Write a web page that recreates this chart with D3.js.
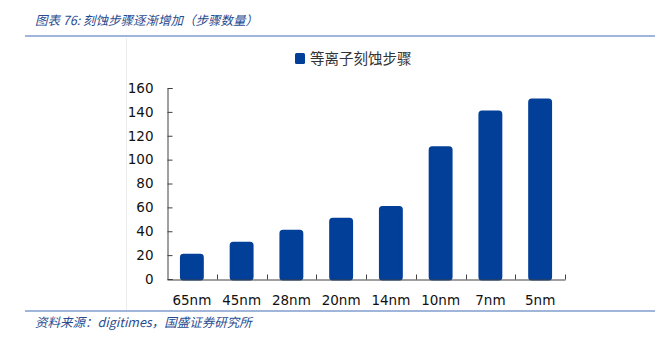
<!DOCTYPE html>
<html>
<head>
<meta charset="utf-8">
<script src="https://cdn.jsdelivr.net/npm/d3@7"></script>
<style>
  html, body { margin: 0; padding: 0; background: #fff; }
  svg { display: block; }
</style>
</head>
<body>
<svg id="chart" width="659" height="337"></svg>
<script>
// Process nodes and the number of plasma etch steps at each node
const nodes = ["65nm", "45nm", "28nm", "20nm", "14nm", "10nm", "7nm", "5nm"];
const etchSteps = [20, 30, 40, 50, 60, 110, 140, 150];
const yTicks = [0, 20, 40, 60, 80, 100, 120, 140, 160];
const seriesName = "等离子刻蚀步骤";
const titleText = "图表 76: 刻蚀步骤逐渐增加（步骤数量）";
const sourceText = "资料来源：digitimes，国盛证券研究所";

const barColor = "#023f98";
const accent = "#2a4b8f";
const ruleColor = "#7f9dcc";
const axisColor = "#404040";
const numFont = "'DejaVu Sans', Verdana, sans-serif";
const cjkFont = "'Noto Sans CJK SC', sans-serif";

const svg = d3.select("#chart");

// Header and footer rules
svg.append("line").attr("x1", 25).attr("x2", 655).attr("y1", 36).attr("y2", 36)
  .attr("stroke", ruleColor).attr("stroke-width", 1.5);
svg.append("line").attr("x1", 25).attr("x2", 655).attr("y1", 311).attr("y2", 311)
  .attr("stroke", ruleColor).attr("stroke-width", 1.5);
// faint frame edge of the chart area
svg.append("line").attr("x1", 126.5).attr("x2", 126.5).attr("y1", 38).attr("y2", 310)
  .attr("stroke", "#ececec").attr("stroke-width", 1);

svg.append("text").attr("x", 35).attr("y", 25)
  .attr("font-family", cjkFont).attr("font-size", 12.5).attr("font-style", "italic")
  .attr("fill", accent).text(titleText);

svg.append("text").attr("x", 35).attr("y", 327)
  .attr("font-family", cjkFont).attr("font-size", 12.5).attr("font-style", "italic")
  .attr("fill", accent).text(sourceText);

// Scales
const x = d3.scaleBand().domain(nodes).range([167, 565]).paddingInner(0.58).paddingOuter(0.29);
const y = d3.scaleLinear().domain([0, 160]).range([279, 88]);

// Bars
svg.append("g").selectAll("rect").data(nodes).join("rect")
  .attr("x", d => x(d))
  .attr("width", x.bandwidth())
  .attr("y", (d, i) => y(etchSteps[i]))
  .attr("height", (d, i) => y(0) - y(etchSteps[i]))
  .attr("rx", 2)
  .attr("fill", barColor)
  .attr("stroke", barColor)
  .attr("stroke-width", 3)
  .attr("stroke-linejoin", "round");

// Y axis, ticks pointing into the plot
const yAxis = svg.append("g").attr("transform", "translate(167.5,0)")
  .call(d3.axisLeft(y).tickValues(yTicks).tickSize(-5).tickPadding(14));
yAxis.select(".domain").attr("stroke", axisColor);
yAxis.selectAll(".tick line").attr("stroke", axisColor);
yAxis.selectAll("text").attr("font-family", numFont).attr("font-size", 13.5).attr("fill", "#111");

// X axis labels
const xAxis = svg.append("g").attr("transform", "translate(0,279.5)")
  .call(d3.axisBottom(x).tickSize(0).tickPadding(16));
xAxis.select(".domain").attr("stroke", axisColor);
xAxis.selectAll("text").attr("font-family", numFont).attr("font-size", 13.5).attr("fill", "#111");

// Category boundary ticks along the x axis
svg.append("g").selectAll("line").data(nodes).join("line")
  .attr("x1", d => Math.round(x(d) + x.bandwidth() / 2 + x.step() / 2) + 0.5)
  .attr("x2", d => Math.round(x(d) + x.bandwidth() / 2 + x.step() / 2) + 0.5)
  .attr("y1", 279.5).attr("y2", 274.5)
  .attr("stroke", axisColor);

// Legend
const legend = svg.append("g").attr("transform", "translate(295,53)");
legend.append("rect").attr("width", 10).attr("height", 11).attr("rx", 1.5).attr("fill", barColor);
legend.append("text").attr("x", 15).attr("y", 10.5)
  .attr("font-family", cjkFont).attr("font-size", 14.5).attr("fill", "#333")
  .text(seriesName);
</script>
</body>
</html>
